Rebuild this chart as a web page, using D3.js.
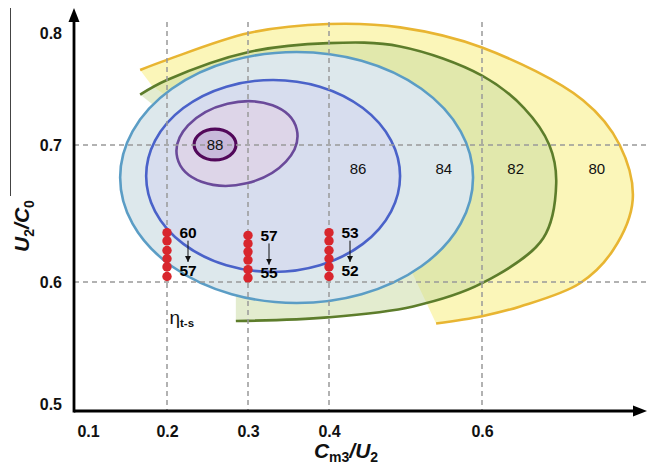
<!DOCTYPE html>
<html>
<head>
<meta charset="utf-8">
<script src="https://cdn.jsdelivr.net/npm/d3@7"></script>
<style>
  body { margin: 0; background: #fff; }
  svg { display: block; font-family: "Liberation Sans", Arial, Helvetica, sans-serif; }
</style>
</head>
<body>
<svg id="chart" width="649" height="468"></svg>
<script>
// ticks and grid
var xTicks = [0.1, 0.2, 0.3, 0.4, 0.6];
var yTicks = [0.5, 0.6, 0.7, 0.8];
var xGrid = [0.2, 0.3, 0.4, 0.6];
var yGrid = [0.6, 0.7];

// closed contours: centre, half axes (data units), tilt in degrees
var ellipseLevels = [84, 86, 87, 88];
var ellipseCx = [0.360, 0.331, 0.2864, 0.2593];
var ellipseCy = [0.6763, 0.6774, 0.7013, 0.7004];
var ellipseRx = [0.2283, 0.1619, 0.0758, 0.0259];
var ellipseRy = [0.0935, 0.0701, 0.0301, 0.0113];
var ellipseTilt = [0, 0, -13.4, 0];
var ellipseStroke = ["#5b9dc5", "#4a62c9", "#6a4a9a", "#52085a"];
var ellipseFill = ["#dde8ec", "#d7ddee", "#ddd5e8", "#c8b9db"];

// open contours 82 and 80 (C_m3/U2, U2/C0)
var contour82 = [[0.166,0.745],[0.200,0.758],[0.301,0.783],[0.399,0.791],[0.493,0.788],
  [0.600,0.762],[0.655,0.733],[0.688,0.700],[0.697,0.672],[0.680,0.632],[0.600,0.599],
  [0.510,0.580],[0.398,0.571],[0.285,0.568]];
var contour80 = [[0.166,0.767],[0.200,0.776],[0.301,0.800],[0.399,0.808],[0.493,0.805],
  [0.600,0.787],[0.732,0.740],[0.780,0.700],[0.797,0.660],[0.771,0.623],[0.728,0.599],
  [0.650,0.580],[0.600,0.572],[0.540,0.566]];
// where the shaded areas close (mostly hidden below inner fills)
var close82 = [[0.285,0.5934],[0.191,0.731]];
var close80 = [[0.506,0.610],[0.181,0.753]];

var levelText = ["88", "86", "84", "82", "80"];
var levelX = [0.2593, 0.438, 0.550, 0.644, 0.750];
var levelY = [0.700, 0.683, 0.683, 0.683, 0.683];

// red points, eta_t-s
var dotX = [0.2, 0.3, 0.4];
var dotY = [
  [0.636, 0.630, 0.623, 0.617, 0.611, 0.604],
  [0.634, 0.628, 0.622, 0.616, 0.609, 0.603],
  [0.636, 0.630, 0.623, 0.617, 0.611, 0.604]
];
var etaFrom = ["60", "57", "53"];
var etaTo = ["57", "55", "52"];

var svg = d3.select("#chart");
var axisX = 74, axisY = 411;

var x = d3.scaleLinear().domain(xTicks).range([88, 167, 248, 329, 482]);
var y = d3.scaleLinear().domain(yTicks).range([404, 282, 145, 33]);

var defs = svg.append("defs");
defs.append("marker")
    .attr("id", "arr")
    .attr("viewBox", "0 0 6 6")
    .attr("refX", 6).attr("refY", 3)
    .attr("markerWidth", 6).attr("markerHeight", 6)
    .attr("markerUnits", "userSpaceOnUse")
    .attr("orient", "auto")
  .append("path").attr("d", "M0,0L6,3L0,6Z").attr("fill", "#111");

// thin frame line on the far left
svg.append("line")
    .attr("x1", 10.5).attr("x2", 10.5).attr("y1", 8).attr("y2", 196)
    .attr("stroke", "#444").attr("stroke-width", 1);

var line = d3.line()
    .x(function(d) { return x(d[0]); })
    .y(function(d) { return y(d[1]); })
    .curve(d3.curveCatmullRom.alpha(0.5));

function shade(pts, extra) {
  var p = line(pts);
  extra.forEach(function(d) { p += "L" + x(d[0]) + "," + y(d[1]); });
  return p + "Z";
}

// 80
svg.append("path").attr("d", shade(contour80, close80))
    .attr("fill", "#fbf6b9");
svg.append("path").attr("d", line(contour80))
    .attr("fill", "none").attr("stroke", "#e8b532").attr("stroke-width", 2.6);

// 82
svg.append("path").attr("d", shade(contour82, close82))
    .attr("fill", "rgb(200,217,160)").attr("fill-opacity", 0.5);
svg.append("path").attr("d", line(contour82))
    .attr("fill", "none").attr("stroke", "#5d7d2b").attr("stroke-width", 2.6);

// 84 .. 88
ellipseLevels.forEach(function(lv, i) {
  var cx = x(ellipseCx[i]), cy = y(ellipseCy[i]);
  var rx = x(ellipseCx[i] + ellipseRx[i]) - cx;
  var ry = y(ellipseCy[i] - ellipseRy[i]) - cy;
  svg.append("ellipse")
      .attr("cx", cx).attr("cy", cy).attr("rx", rx).attr("ry", ry)
      .attr("transform", "rotate(" + ellipseTilt[i] + "," + cx + "," + cy + ")")
      .attr("fill", ellipseFill[i])
      .attr("stroke", ellipseStroke[i])
      .attr("stroke-width", i == 3 ? 3.2 : 2.6);
});

// grid
var grid = svg.append("g")
    .attr("stroke", "#999").attr("stroke-width", 1.5).attr("stroke-dasharray", "5,4");
grid.selectAll("line.v").data(xGrid).enter().append("line")
    .attr("class", "v")
    .attr("x1", function(d) { return x(d); }).attr("x2", function(d) { return x(d); })
    .attr("y1", 22).attr("y2", axisY);
grid.selectAll("line.h").data(yGrid).enter().append("line")
    .attr("class", "h")
    .attr("x1", axisX).attr("x2", 649)
    .attr("y1", function(d) { return y(d); }).attr("y2", function(d) { return y(d); });

// level labels
svg.selectAll("text.lv").data(levelText).enter().append("text")
    .attr("class", "lv")
    .attr("x", function(d, i) { return x(levelX[i]); })
    .attr("y", function(d, i) { return y(levelY[i]); })
    .attr("dy", "0.35em")
    .attr("text-anchor", "middle")
    .attr("font-size", 15)
    .attr("fill", "#111")
    .text(function(d) { return d; });

// dots + efficiency annotations
dotX.forEach(function(cx, i) {
  svg.selectAll("circle.c" + i).data(dotY[i]).enter().append("circle")
      .attr("cx", x(cx))
      .attr("cy", function(d) { return y(d); })
      .attr("r", 4.7)
      .attr("fill", "#d8262d");

  var tx = x(cx) + 21;
  var top = y(dotY[i][0]), bot = y(dotY[i][4]) + 3;
  svg.append("text").attr("x", tx).attr("y", top).attr("dy", "0.36em")
      .attr("text-anchor", "middle").attr("font-weight", "bold").attr("font-size", 15.5)
      .text(etaFrom[i]);
  svg.append("text").attr("x", tx).attr("y", bot).attr("dy", "0.36em")
      .attr("text-anchor", "middle").attr("font-weight", "bold").attr("font-size", 15.5)
      .text(etaTo[i]);
  svg.append("line")
      .attr("x1", tx).attr("x2", tx).attr("y1", top + 8).attr("y2", bot - 8)
      .attr("stroke", "#111").attr("stroke-width", 1)
      .attr("marker-end", "url(#arr)");
});

var eta = svg.append("text").attr("x", x(0.203)).attr("y", y(0.5655)).attr("fill", "#111");
eta.append("tspan").attr("font-size", 19).text("η");
eta.append("tspan").attr("font-size", 11.5).attr("font-weight", "bold").attr("dy", 3).text("t-s");

// axes
var gx = svg.append("g").attr("transform", "translate(0," + axisY + ")")
    .call(d3.axisBottom(x).tickValues(xTicks).tickSize(0).tickPadding(15)
      .tickFormat(d3.format(".1f")));
var gy = svg.append("g").attr("transform", "translate(" + axisX + ",0)")
    .call(d3.axisLeft(y).tickValues(yTicks).tickSize(0).tickPadding(12)
      .tickFormat(d3.format(".1f")));
[gx, gy].forEach(function(g) {
  g.select(".domain").remove();
  g.selectAll("text").attr("font-size", 16).attr("font-weight", "bold")
      .attr("fill", "#111").attr("font-family", null);
});

svg.append("line").attr("x1", axisX).attr("x2", axisX).attr("y1", axisY + 1.5).attr("y2", 20)
    .attr("stroke", "#000").attr("stroke-width", 2.8);
svg.append("path").attr("d", "M" + axisX + ",8L" + (axisX - 5.5) + ",22L" + (axisX + 5.5) + ",22Z");
svg.append("line").attr("x1", axisX).attr("x2", 636).attr("y1", axisY).attr("y2", axisY)
    .attr("stroke", "#000").attr("stroke-width", 2.8);
svg.append("path").attr("d", "M647," + axisY + "L633," + (axisY - 5.5) + "L633," + (axisY + 5.5) + "Z");

// axis titles
var xt = svg.append("text").attr("x", 346).attr("y", 458)
    .attr("text-anchor", "middle").attr("font-weight", "bold").attr("font-size", 21).attr("fill", "#111");
xt.append("tspan").attr("font-style", "italic").text("C");
xt.append("tspan").attr("font-size", 14).attr("dy", 4).text("m3");
xt.append("tspan").attr("font-style", "italic").attr("dy", -4).text("/U");
xt.append("tspan").attr("font-size", 14).attr("dy", 4).text("2");

var yt = svg.append("text").attr("transform", "translate(29,226) rotate(-90)")
    .attr("text-anchor", "middle").attr("font-weight", "bold").attr("font-size", 21).attr("fill", "#111");
yt.append("tspan").attr("font-style", "italic").text("U");
yt.append("tspan").attr("font-size", 14).attr("dy", 5).text("2");
yt.append("tspan").attr("font-style", "italic").attr("dy", -5).text("/C");
yt.append("tspan").attr("font-size", 14).attr("dy", 5).text("0");
</script>
</body>
</html>
